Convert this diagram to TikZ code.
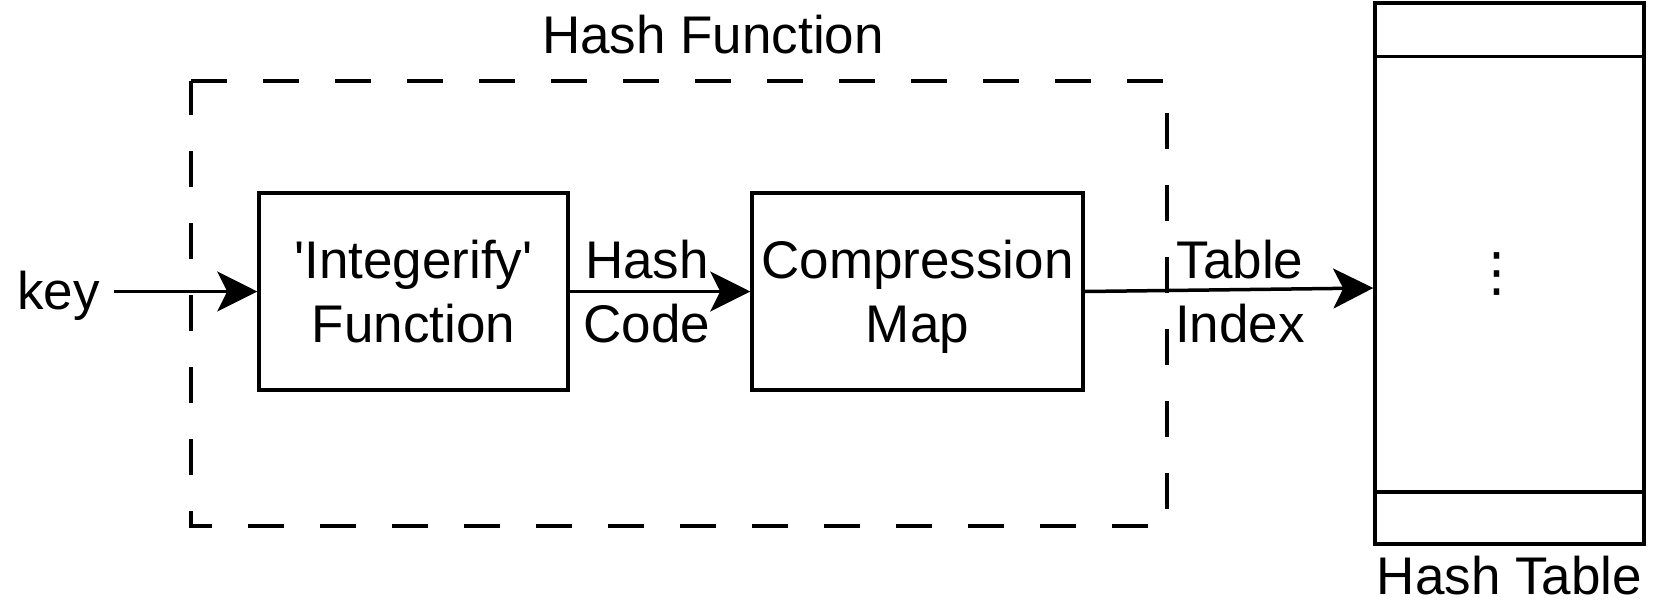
\documentclass[tikz,border=0pt]{standalone}
\usepackage{fontspec}
\newfontfamily\plainsans{Liberation Sans}
\newfontfamily\dejavu{DejaVu Sans}
\usetikzlibrary{arrows.meta,calc}
\begin{document}
\begin{tikzpicture}[x=0.5pt,y=-0.5pt,
  every node/.style={font=\plainsans\fontsize{26.5pt}{32pt}\selectfont, inner sep=0pt},
  stagebox/.style={draw, line width=1.75pt, minimum width=154.5pt, minimum height=98.5pt, align=center, text depth=0pt},
  lbl/.style={align=center, text depth=0pt},
  conn/.style={line width=1.75pt, -{Stealth[length=20pt,width=20pt,inset=5pt]}},
  dashbox/.style={line width=1.6pt, dash pattern=on 18pt off 18pt}
]
\useasboundingbox (0,0) rectangle (1657,600);

% title and dashed frame
\node[anchor=base] (title) at (713,53) {Hash Function};
\coordinate (ftl) at (191,81);
\coordinate (ftr) at (1167,81);
\coordinate (fbr) at (1167,526);
\coordinate (fbl) at (191,526);
\draw[dashbox] (ftl) -- (ftr) -- (fbr) -- (fbl) -- cycle;

% stages
\node[stagebox] (int) at (413.5,291.5) {'Integerify'\\Function};
\node[stagebox, minimum width=165.5pt] (comp) at (917.5,291.5) {Compression\\Map};

% hash table
\node[draw, line width=1.75pt, minimum width=134.5pt, minimum height=270.5pt] (table) at (1509.5,273.5) {};
\coordinate (r1w) at ($(table.north west)+(0,55)$);
\coordinate (r1e) at ($(table.north east)+(0,55)$);
\coordinate (r2w) at ($(table.south west)+(0,-54)$);
\coordinate (r2e) at ($(table.south east)+(0,-54)$);
\draw[line width=1.75pt] (r1w) -- (r1e);
\draw[line width=1.75pt] (r2w) -- (r2e);
\node (dots) at (1497,274) {\dejavu ⋮};
\node[anchor=base] (tlabel) at (1509.5,594) {Hash Table};

% labels
\node[anchor=base, inner xsep=7pt] (key) at (58.5,309) {key};
\node[lbl] (hc) at (647,291) {Hash\\Code};
\node[lbl] (ti) at (1240,291) {Table\\Index};

% connectors
\coordinate (tin) at ($(table.west)+(0,14.5)$);
\draw[conn] (key.east |- int.west) -- (int.west);
\draw[conn] (int.east) -- (comp.west);
\draw[conn] (comp.east) -- (tin);
\end{tikzpicture}
\end{document}
